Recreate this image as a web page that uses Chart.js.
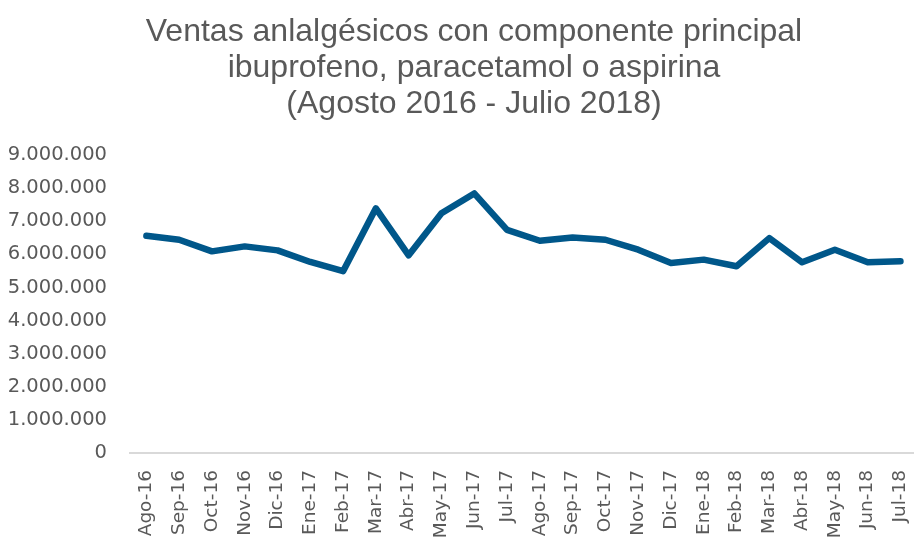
<!DOCTYPE html>
<html lang="es">
<head>
<meta charset="utf-8">
<title>Ventas analgésicos</title>
<script src="https://cdn.jsdelivr.net/npm/chart.js@4.4.1/dist/chart.umd.min.js"></script>
<style>
  html, body { margin: 0; padding: 0; background: #fff; overflow: hidden; }
  #wrap { width: 940px; height: 538px; }
</style>
</head>
<body>
<div id="wrap"><canvas id="chartVentas" width="940" height="538"></canvas></div>
<script>
/* Ventas mensuales de analgésicos (ibuprofeno, paracetamol, aspirina) */

const MESES = [
  'Ago-16', 'Sep-16', 'Oct-16', 'Nov-16', 'Dic-16', 'Ene-17', 'Feb-17', 'Mar-17',
  'Abr-17', 'May-17', 'Jun-17', 'Jul-17', 'Ago-17', 'Sep-17', 'Oct-17', 'Nov-17',
  'Dic-17', 'Ene-18', 'Feb-18', 'Mar-18', 'Abr-18', 'May-18', 'Jun-18', 'Jul-18',
];

const VENTAS = [
  6560000, 6440000, 6090000, 6240000, 6120000, 5770000, 5490000, 7390000,
  5970000, 7240000, 7840000, 6740000, 6410000, 6510000, 6440000, 6140000,
  5740000, 5840000, 5640000, 6490000, 5760000, 6140000, 5760000, 5790000,
];

const TITULO = [
  'Ventas anlalgésicos con componente principal',
  'ibuprofeno, paracetamol o aspirina',
  '(Agosto 2016 - Julio 2018)',
];

const Y_MIN  = 0;
const Y_MAX  = 9000000;
const Y_STEP = 1000000;

const GRIS  = '#595959';
const AZUL  = '#00578a';
const FONT  = "'DejaVu Sans', Verdana, sans-serif";

// 6.560.000 style thousands separator
function fmtMiles(v) {
  return String(v).replace(/\B(?=(\d{3})+(?!\d))/g, '.');
}

// the title in the original sits a bit right of the canvas centre
const shiftTitle = {
  id: 'shiftTitle',
  afterLayout(chart) {
    const t = chart.titleBlock;
    if (t) { t.left += 12; t.right += 12; }
  },
};

const ctx = document.getElementById('chartVentas').getContext('2d');
new Chart(ctx, {
  type: 'line',
  data: {
    labels: MESES,
    datasets: [{
      label: 'Ventas',
      data: VENTAS,
      borderColor: AZUL,
      backgroundColor: AZUL,
      borderWidth: 6.5,
      borderJoinStyle: 'round',
      borderCapStyle: 'round',
      pointRadius: 0,
      tension: 0,
      fill: false,
    }],
  },
  options: {
    responsive: false,
    animation: false,
    devicePixelRatio: 1,
    layout: { padding: { left: 0, right: 16, top: 14, bottom: 0 } },
    plugins: {
      legend: { display: false },
      tooltip: { enabled: false },
      title: {
        display: true,
        text: TITULO,
        color: GRIS,
        font: { family: "'Liberation Sans', Arial, sans-serif", size: 32, weight: 'normal', lineHeight: 1.125 },
        padding: { top: 0, bottom: 33 },
      },
    },
    scales: {
      x: {
        offset: true,
        grid: { display: false, drawTicks: false },
        border: { display: true, color: '#d9d9d9', width: 2 },
        afterFit: (scale) => { scale.height = 85; },  // axis line at y=453
        ticks: {
          color: GRIS,
          font: { family: FONT, size: 18.5 },
          minRotation: 90,
          maxRotation: 90,
          autoSkip: false,
          padding: 17,
        },
      },
      y: {
        min: Y_MIN,
        max: Y_MAX,
        grid: { display: false, drawTicks: false },
        border: { display: false },
        afterFit: (scale) => { scale.width = 130; },  // plot left edge at x=130
        ticks: {
          stepSize: Y_STEP,
          color: GRIS,
          font: { family: FONT, size: 19.5 },
          padding: 23,
          callback: (v) => fmtMiles(v),
        },
      },
    },
  },
  plugins: [shiftTitle],
});
</script>
</body>
</html>
